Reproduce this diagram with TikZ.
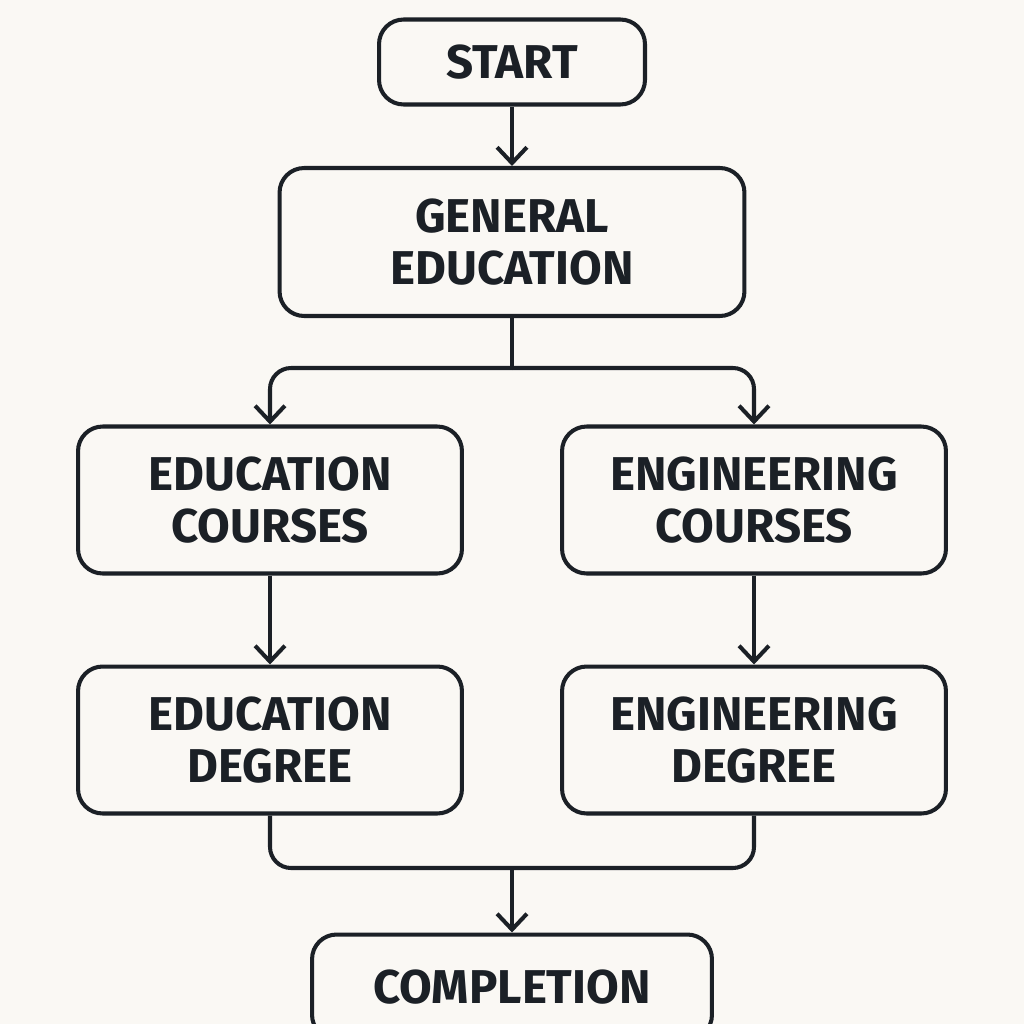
\documentclass[tikz,border=0pt]{standalone}
\usepackage{fontspec}
\setmainfont{Fira Sans}
\usetikzlibrary{arrows.meta}
\definecolor{ink}{HTML}{1B2026}
\definecolor{paper}{HTML}{FAF8F4}

\begin{document}
\begin{tikzpicture}[x=0.02cm,y=-0.02cm,
  box/.style={draw=ink,line width=2.3pt,rounded corners=14pt,align=center,
    font=\fontsize{27}{30}\selectfont\bfseries,text=ink,inner sep=0pt},
  flow/.style={draw=ink,line width=2.3pt,rounded corners=12pt,
    -{Straight Barb[length=9pt,width=17pt,line width=2.3pt]}},
  link/.style={draw=ink,line width=2.3pt,rounded corners=12pt}]
\fill[paper] (0,0) rectangle (1024,1024);
\useasboundingbox (0,0) rectangle (1024,1024);
\begin{scope}
\clip (0,0) rectangle (1024,1024);
\node[box,minimum width=5.32cm,minimum height=1.7cm] (start) at (512,62) {START};
\node[box,minimum width=9.3cm,minimum height=2.96cm] (gen) at (512,242) {GENERAL\\EDUCATION};
\node[box,minimum width=7.68cm,minimum height=2.94cm] (educ) at (270,500) {EDUCATION\\COURSES};
\node[box,minimum width=7.68cm,minimum height=2.94cm] (engc) at (754,500) {ENGINEERING\\COURSES};
\node[box,minimum width=7.68cm,minimum height=2.94cm] (edud) at (270,740) {EDUCATION\\DEGREE};
\node[box,minimum width=7.68cm,minimum height=2.94cm] (engd) at (754,740) {ENGINEERING\\DEGREE};
\node[box,minimum width=8cm,minimum height=2.1cm] (done) at (512,987) {COMPLETION};
\end{scope}
\coordinate (split) at (512,368);
\coordinate (join) at (512,868);
\draw[flow] (start) -- (gen);
\draw[link] (gen) -- (split);
\draw[flow] (split) -| (educ);
\draw[flow] (split) -| (engc);
\draw[flow] (educ) -- (edud);
\draw[flow] (engc) -- (engd);
\draw[link] (edud.south) |- (join) -| (engd.south);
\draw[flow] (join) -- (done);
\end{tikzpicture}
\end{document}
